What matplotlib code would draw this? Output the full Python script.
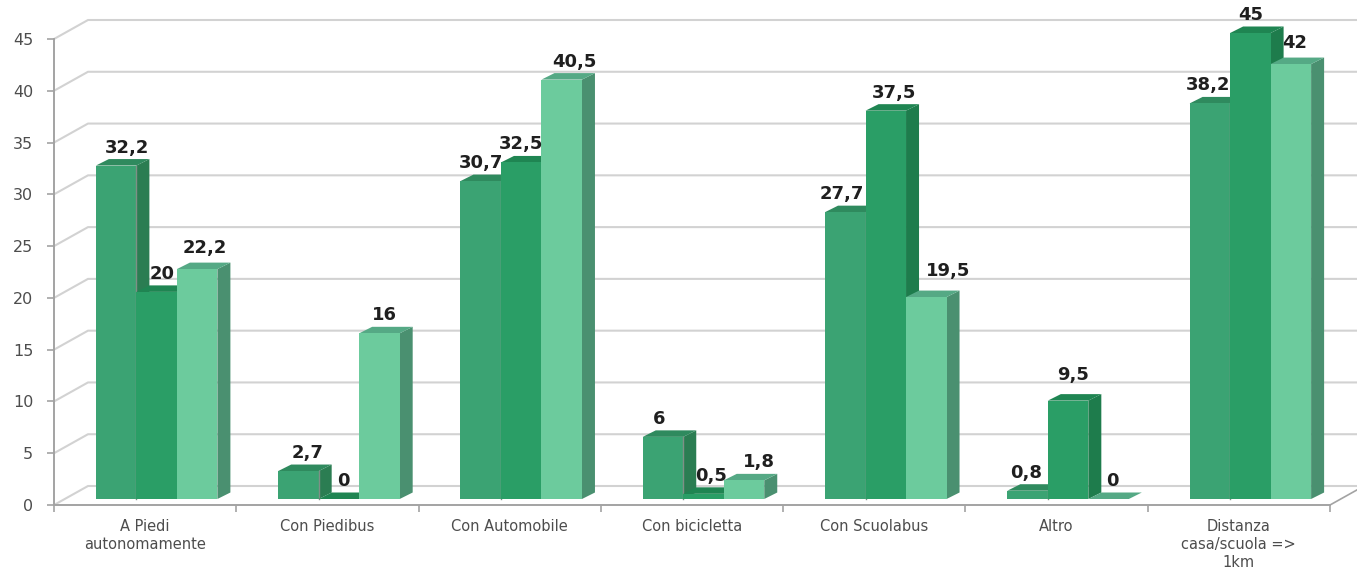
"""3D-look clustered bars: how children get to school, three survey groups."""

import matplotlib
matplotlib.use("Agg")
import matplotlib.pyplot as plt
from matplotlib.patches import Polygon

categories = [
    "A Piedi\nautonomamente",
    "Con Piedibus",
    "Con Automobile",
    "Con bicicletta",
    "Con Scuolabus",
    "Altro",
    "Distanza\ncasa/scuola =>\n1km",
]
series_a = [32.2, 2.7, 30.7, 6, 27.7, 0.8, 38.2]
series_b = [20, 0, 32.5, 0.5, 37.5, 9.5, 45]
series_c = [22.2, 16, 40.5, 1.8, 19.5, 0, 42]
y_ticks = [0, 5, 10, 15, 20, 25, 30, 35, 40, 45]

# label nudges in pixels (dx per bar), chart app placed these by hand-ish rules
nudge_x = [
    [11, 5, 8], [9, 4, 5], [0, 0, 13], [-4, 8, 15],
    [-3, 8, 22], [-1, 5, 4], [-2, 0, 4],
]
nudge_y = {(4, 2): 8, (5, 1): 8, (6, 2): 3, (0, 2): 3}

W, H = 1357, 571
LEFT, RIGHT, TOP, BOTTOM = 54, 1330, 39, 505  # front plane of the box, px

face = ["#3ba373", "#2a9e66", "#6ccb9d"]
side = ["#2b7d52", "#1e7c4c", "#4a9070"]
top = ["#2f8a5e", "#1f8552", "#55a985"]
grid_col = "#d2d2d2"
axis_col = "#a3a3a3"
text_col = "#4d4d4d"

fig = plt.figure(figsize=(W / 100, H / 100), dpi=100)
ax = fig.add_axes([LEFT / W, 1 - BOTTOM / H, (RIGHT - LEFT) / W, (BOTTOM - TOP) / H])
ax.set_xlim(0, len(categories))
ax.set_ylim(0, 45)
ax.patch.set_alpha(0)
for s in ax.spines.values():
    s.set_visible(False)

# data units per pixel
ux = len(categories) / (RIGHT - LEFT)
uy = 45 / (BOTTOM - TOP)

# ── walls ────────────────────────────────────────────────────────────────
wall_dx, wall_dy = 34 * ux, 19 * uy
for v in y_ticks:
    ax.plot([0, wall_dx, 7.3], [v, v + wall_dy, v + wall_dy], color=grid_col,
            lw=1.5, clip_on=False, zorder=1, solid_joinstyle="round")
ax.plot([7, 7 + wall_dx], [0, wall_dy], color=axis_col, lw=1.2, clip_on=False, zorder=1)
ax.plot([0, 0], [0, 45], color=axis_col, lw=1.4, clip_on=False, zorder=2)
ax.plot([0, 7], [0, 0], color=axis_col, lw=1.4, clip_on=False, zorder=2)

# ── ticks ────────────────────────────────────────────────────────────────
ax.set_yticks(y_ticks)
ax.set_yticklabels([str(v) for v in y_ticks], fontsize=11.5, color=text_col)
ax.tick_params(axis="y", length=5, width=1.2, color=axis_col, pad=10)
ax.set_xticks([i + 0.5 for i in range(len(categories))])
ax.set_xticklabels(categories, fontsize=10.5, color=text_col, linespacing=1.25)
ax.tick_params(axis="x", length=0, pad=10)
ax.set_xticks(range(len(categories) + 1), minor=True)
ax.tick_params(axis="x", which="minor", length=5, width=1.2, color=axis_col)

# ── bars ─────────────────────────────────────────────────────────────────
bar_w = 40.5 * ux
shift_x, shift_y = 11.5 * ux, 6 * uy
depth_x, depth_y = 13 * ux, 6.5 * uy

z = 3
for g in range(len(categories)):
    x0 = g + 0.5 + shift_x - 1.5 * bar_w
    for k, values in enumerate([series_a, series_b, series_c]):
        v = values[g]
        xl = x0 + k * bar_w
        xr = xl + bar_w
        yb, yt = shift_y, v + shift_y
        # side, top, then front so that the next bar hides this one's side
        ax.add_patch(Polygon(
            [(xr, yb), (xr + depth_x, yb + depth_y), (xr + depth_x, yt + depth_y), (xr, yt)],
            closed=True, fc=side[k], ec="none", clip_on=False, zorder=z))
        ax.add_patch(Polygon(
            [(xl, yt), (xl + depth_x, yt + depth_y), (xr + depth_x, yt + depth_y), (xr, yt)],
            closed=True, fc=top[k], ec="none", clip_on=False, zorder=z))
        ax.bar(xl, v, width=bar_w, bottom=shift_y, align="edge", color=face[k],
               clip_on=False, zorder=z + 0.1)
        if k == 0:
            ax.plot([xr, xr], [yb, yt], color="#7f8f86", lw=1.0, clip_on=False, zorder=z + 0.9)
        ax.annotate(
            str(v).replace(".", ","),
            xy=(xl + bar_w / 2, yt),
            xytext=((nudge_x[g][k]) * 0.72, (18 + nudge_y.get((g, k), 0)) * 0.72),
            textcoords="offset points",
            ha="center",
            va="center",
            fontsize=13,
            fontweight="bold",
            color="#1f1f1f",
            annotation_clip=False,
            zorder=20,
        )
        z += 1

fig.savefig("out.png", dpi=100)
